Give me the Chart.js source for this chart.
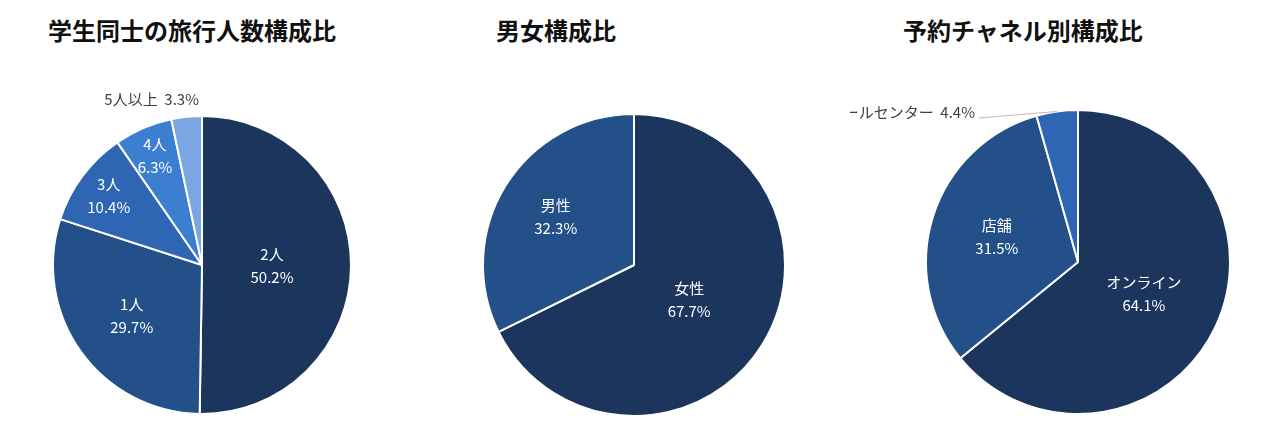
<!DOCTYPE html>
<html>
<head>
<meta charset="utf-8">
<script src="https://cdn.jsdelivr.net/npm/chart.js@4.4.0/dist/chart.umd.min.js"></script>
<style>
  body { margin: 0; background: #fff; width: 1280px; height: 440px; overflow: hidden; position: relative;
         font-family: "Noto Sans CJK JP", sans-serif; }
  .title { position: absolute; top: 12px; font-size: 24px; font-weight: bold; color: #111; white-space: nowrap; }
  .box { position: absolute; top: 0; height: 440px; }
</style>
</head>
<body>
<div class="title" style="left:48px">学生同士の旅行人数構成比</div>
<div class="title" style="left:496px">男女構成比</div>
<div class="title" style="left:903px">予約チャネル別構成比</div>
<div class="box" style="left:0;width:420px"><canvas id="c1"></canvas></div>
<div class="box" style="left:420px;width:430px"><canvas id="c2"></canvas></div>
<div class="box" style="left:850px;width:430px"><canvas id="c3"></canvas></div>
<script>
// data
const groupLabels = ['2人', '1人', '3人', '4人', '5人以上'];
const groupValues = [50.2, 29.7, 10.4, 6.3, 3.3];
const genderLabels = ['女性', '男性'];
const genderValues = [67.7, 32.3];
const channelLabels = ['オンライン', '店舗', 'コールセンター'];
const channelValues = [64.1, 31.5, 4.4];

const colors = ['#1b355d', '#24508a', '#2e66b4', '#3c7fd0', '#7aa7e2'];

// label plugin: inside labels at given radius fraction, or outside label with optional leader line
const pieLabels = {
  id: 'pieLabels',
  afterDatasetsDraw(chart, args, opts) {
    const ctx = chart.ctx;
    const meta = chart.getDatasetMeta(0);
    meta.data.forEach((arc, i) => {
      const p = arc.getProps(['x', 'y', 'startAngle', 'endAngle', 'outerRadius']);
      const mid = (p.startAngle + p.endAngle) / 2;
      const name = chart.data.labels[i];
      const pct = chart.data.datasets[0].data[i].toFixed(1) + '%';
      ctx.save();
      ctx.font = '15px "Noto Sans CJK JP", sans-serif';
      const out = opts.outside && opts.outside[i];
      if (out) {
        const lx = p.x + out.dx, ly = p.y + out.dy;
        ctx.fillStyle = '#404040';
        ctx.textAlign = 'right';
        ctx.textBaseline = 'middle';
        ctx.fillText(name + '  ' + pct, lx, ly);
        if (out.line) {
          const ex = p.x + Math.cos(mid) * p.outerRadius, ey = p.y + Math.sin(mid) * p.outerRadius;
          ctx.strokeStyle = '#bbbbbb';
          ctx.lineWidth = 1;
          ctx.beginPath();
          ctx.moveTo(lx + 4, ly + 6);
          ctx.lineTo(ex, ey);
          ctx.stroke();
        }
      } else {
        const f = opts.radius[i];
        const x = p.x + Math.cos(mid) * p.outerRadius * f;
        const y = p.y + Math.sin(mid) * p.outerRadius * f;
        ctx.fillStyle = '#ffffff';
        ctx.textAlign = 'center';
        ctx.textBaseline = 'middle';
        ctx.fillText(name, x, y - 11);
        ctx.fillText(pct, x, y + 12);
      }
      ctx.restore();
    });
  }
};

function makePie(id, labels, values, width, cx, cy, r, labelOpts) {
  const h = 440;
  new Chart(document.getElementById(id), {
    type: 'pie',
    data: {
      labels: labels,
      datasets: [{ data: values, backgroundColor: colors.slice(0, values.length),
                   borderColor: '#ffffff', borderWidth: 2 }]
    },
    options: {
      responsive: true,
      maintainAspectRatio: false,
      animation: false,
      layout: { padding: { left: cx - r, right: width - cx - r, top: cy - r, bottom: h - cy - r } },
      plugins: { legend: { display: false }, tooltip: { enabled: false }, pieLabels: labelOpts }
    },
    plugins: [pieLabels]
  });
}

makePie('c1', groupLabels, groupValues, 420, 202, 265, 150,
  { radius: [0.47, 0.58, 0.78, 0.8, 0], outside: { 4: { dx: -3, dy: -166 } } });
makePie('c2', genderLabels, genderValues, 430, 214, 265, 152,
  { radius: [0.43, 0.61] });
makePie('c3', channelLabels, channelValues, 430, 228, 262, 153,
  { radius: [0.48, 0.56, 0], outside: { 2: { dx: -103, dy: -150, line: true } } });
</script>
</body>
</html>
